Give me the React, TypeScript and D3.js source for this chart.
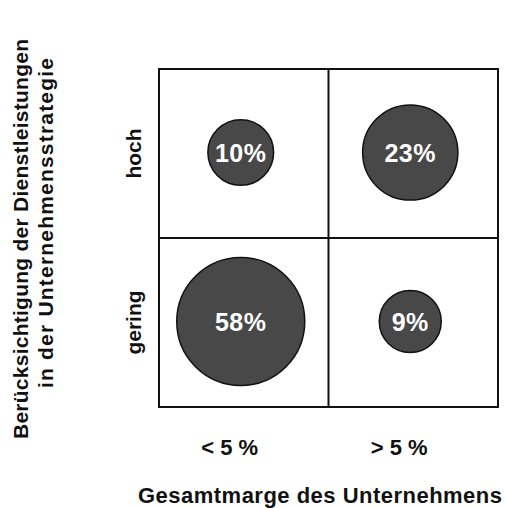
import React from "react";
import * as d3 from "d3";

// categories of the 2x2 matrix
const columns = ["< 5 %", "> 5 %"];
const rows = ["hoch", "gering"];

// share of companies per cell, one array per row (columns in order above)
const sharesHoch = [10, 23];
const sharesGering = [58, 9];

const yTitle = ["Berücksichtigung der Dienstleistungen", "in der Unternehmensstrategie"];
const xTitle = "Gesamtmarge des Unternehmens";

const W = 505;
const H = 508;
const font = "'Liberation Sans', Arial, Helvetica, sans-serif";

export default function App() {
  const x = d3.scaleBand().domain(columns).range([159, 498]);
  const y = d3.scaleBand().domain(rows).range([69, 407]);

  const cells = rows.flatMap((r, i) =>
    columns.map((c, j) => ({
      row: r,
      col: c,
      value: (i === 0 ? sharesHoch : sharesGering)[j],
    }))
  );

  const all = cells.map((d) => d.value);
  const r = d3.scaleLog().domain([d3.min(all)!, d3.max(all)!]).range([31, 64]);

  const [x0, x1] = x.range();
  const [y0, y1] = y.range();
  const bw = x.bandwidth();
  const bh = y.bandwidth();

  return (
    <svg
      width={W}
      height={H}
      style={{ position: "absolute", left: 0, top: 0, background: "#fff" }}
      fontFamily={font}
      fontWeight="bold"
    >
      {/* bubbles */}
      {cells.map((d) => {
        const cx = x(d.col)! + bw / 2 - 3;
        const cy = y(d.row)! + bh / 2 - 1;
        return (
          <g key={d.row + d.col}>
            <circle cx={cx} cy={cy} r={r(d.value)} fill="#484848" stroke="#111" strokeWidth={1.5} />
            <text
              x={cx}
              y={cy + 9}
              textAnchor="middle"
              fill="#fff"
              fontSize={25}
              letterSpacing={0.5}
            >
              {d.value + "%"}
            </text>
          </g>
        );
      })}

      {/* grid */}
      <rect x={x0} y={y0} width={x1 - x0} height={y1 - y0} fill="none" stroke="#111" strokeWidth={2} />
      <line x1={x(columns[1])!} x2={x(columns[1])!} y1={y0} y2={y1} stroke="#111" strokeWidth={2} />
      <line x1={x0} x2={x1} y1={y(rows[1])!} y2={y(rows[1])!} stroke="#111" strokeWidth={2} />

      {/* column labels */}
      {columns.map((c) => (
        <text
          key={c}
          x={x(c)! + bw / 2 - 14}
          y={455}
          textAnchor="middle"
          fontSize={22}
          fill="#111"
        >
          {c}
        </text>
      ))}

      {/* row labels */}
      {rows.map((rw) => (
        <text
          key={rw}
          transform={`translate(141,${y(rw)! + bh / 2}) rotate(-90)`}
          textAnchor="middle"
          fontSize={21}
          fill="#111"
        >
          {rw}
        </text>
      ))}

      {/* axis titles */}
      <text x={320} y={503} textAnchor="middle" fontSize={22} fill="#111" textLength={364}>
        {xTitle}
      </text>
      <text transform="translate(28,239) rotate(-90)" textAnchor="middle" fontSize={21} fill="#111" textLength={400}>
        {yTitle[0]}
      </text>
      <text transform="translate(53,223) rotate(-90)" textAnchor="middle" fontSize={21} fill="#111" textLength={330}>
        {yTitle[1]}
      </text>
    </svg>
  );
}
